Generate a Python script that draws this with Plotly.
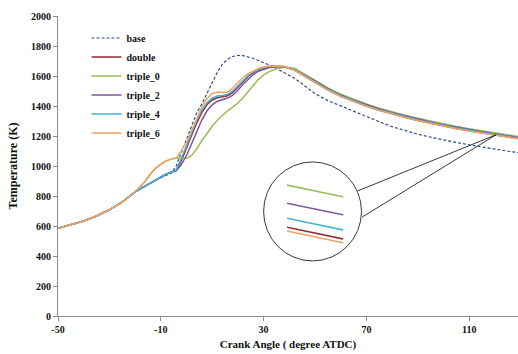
import numpy as np
import plotly.graph_objects as go

crank = [-50, -45, -40, -35, -30, -25, -20, -18, -16, -14, -12, -10, -8, -6, -4, -2, 0, 2, 4, 6,
         8, 10, 12, 14, 16, 18, 20, 22, 24, 26, 28, 30, 32, 35, 38, 42, 45, 50, 55, 60,
         65, 70, 75, 80, 85, 90, 95, 100, 105, 110, 115, 120, 125, 130]

base = [585, 607, 633, 667, 708, 760, 828, 848, 868, 888, 906, 922, 936, 952, 1000, 1090, 1185, 1275, 1355, 1415,
        1485, 1555, 1625, 1680, 1712, 1730, 1737, 1736, 1729, 1717, 1703, 1690, 1675, 1650, 1622, 1585, 1548, 1482, 1436, 1400,
        1365, 1330, 1295, 1262, 1235, 1212, 1192, 1173, 1157, 1141, 1126, 1112, 1099, 1087]

double = [585, 607, 633, 667, 708, 760, 828, 848, 868, 890, 910, 928, 945, 958, 970, 1035, 1115, 1205, 1288, 1358,
          1410, 1440, 1455, 1460, 1468, 1490, 1527, 1565, 1597, 1623, 1642, 1654, 1661, 1665, 1662, 1640, 1609, 1559, 1507, 1465,
          1430, 1399, 1372, 1347, 1325, 1304, 1285, 1267, 1250, 1235, 1221, 1207, 1193, 1180]

triple_0 = [585, 607, 633, 667, 708, 760, 828, 862, 900, 948, 985, 1012, 1033, 1046, 1053, 1050, 1052, 1070, 1115, 1170,
            1220, 1265, 1305, 1340, 1368, 1393, 1420, 1455, 1498, 1540, 1578, 1606, 1628, 1648, 1658, 1652, 1623, 1573, 1521, 1479,
            1444, 1413, 1386, 1361, 1339, 1318, 1299, 1281, 1264, 1249, 1235, 1221, 1207, 1194]

triple_2 = [585, 607, 633, 667, 708, 760, 828, 848, 868, 890, 910, 928, 945, 958, 968, 1010, 1070, 1148, 1232, 1308,
            1368, 1408, 1432, 1443, 1453, 1472, 1505, 1545, 1580, 1610, 1632, 1646, 1655, 1661, 1662, 1644, 1617, 1567, 1515, 1473,
            1438, 1407, 1380, 1355, 1333, 1312, 1293, 1275, 1258, 1243, 1229, 1215, 1201, 1188]

triple_4 = [585, 607, 633, 667, 708, 760, 828, 848, 868, 890, 910, 928, 945, 958, 975, 1050, 1138, 1225, 1305, 1372,
            1422, 1452, 1466, 1470, 1478, 1500, 1535, 1572, 1603, 1627, 1645, 1656, 1663, 1666, 1664, 1643, 1612, 1562, 1510, 1468,
            1433, 1402, 1375, 1350, 1328, 1307, 1288, 1270, 1253, 1238, 1224, 1210, 1196, 1183]

triple_6 = [585, 607, 633, 667, 708, 760, 828, 862, 900, 948, 985, 1012, 1033, 1046, 1053, 1100, 1160, 1235, 1315, 1395,
            1450, 1483, 1493, 1490, 1493, 1520, 1555, 1590, 1615, 1635, 1650, 1660, 1665, 1667, 1663, 1640, 1608, 1558, 1506, 1464,
            1429, 1398, 1371, 1346, 1324, 1303, 1284, 1266, 1249, 1234, 1219.7, 1205.7, 1191.7, 1179]

names = ["base", "double", "triple_0", "triple_2", "triple_4", "triple_6"]
series = [base, double, triple_0, triple_2, triple_4, triple_6]
colors = ["#2E4E8C", "#962B30", "#9BBB59", "#7A559C", "#3FB4CF", "#F2A060"]
x_ticks = [-50, -10, 30, 70, 110]
y_ticks = [0, 200, 400, 600, 800, 1000, 1200, 1400, 1600, 1800, 2000]

# magnified window shown inside the circle
zoom_window = [119.8, 121.2]

FONT = "Liberation Serif"
fig = go.Figure()

for i, (nm, ys, c) in enumerate(zip(names, series, colors)):
    dash = "3px,2px" if nm == "base" else "solid"
    fig.add_trace(go.Scatter(
        x=crank, y=ys, name="<b>%s</b>" % nm, mode="lines",
        line=dict(color=c, width=1.2 if nm == "base" else 1.5, dash=dash),
    ))

# inset (magnified view of the tail)
zx = np.array(crank, dtype=float)
vals = []
for nm, ys, c in zip(names[1:], series[1:], colors[1:]):
    vals += list(np.interp(zoom_window, zx, ys))
    fig.add_trace(go.Scatter(
        x=crank, y=ys, mode="lines", showlegend=False,
        line=dict(color=c, width=1.5), xaxis="x2", yaxis="y2",
        hoverinfo="skip",
    ))
ymin, ymax = min(vals), max(vals)
pad = (ymax - ymin) * 0.02

# callout circle and connector lines
anchor_x = 120.5
anchor_y = float(np.interp(anchor_x, zx, triple_4))
shapes = [
    dict(type="circle", xref="x", yref="y", x0=30.0, x1=68.1, y0=367, y1=1027,
         line=dict(color="#222222", width=0.9)),
    dict(type="line", xref="x", yref="y", x0=anchor_x, y0=anchor_y, x1=66.5, y1=833,
         line=dict(color="#222222", width=0.9)),
    dict(type="line", xref="x", yref="y", x0=anchor_x, y0=anchor_y, x1=68.4, y1=660,
         line=dict(color="#222222", width=0.9)),
]

fig.update_layout(
    width=518, height=354,
    margin=dict(l=58, r=0, t=16, b=38),
    paper_bgcolor="white", plot_bgcolor="white",
    showlegend=True,
    legend=dict(x=0.062, y=0.975, xanchor="left", yanchor="top",
                font=dict(family=FONT, size=10, color="#111111"),
                bgcolor="rgba(0,0,0,0)", itemwidth=30),
    xaxis=dict(range=[-50, 129], tickvals=x_ticks, ticktext=["<b>%d</b>" % v for v in x_ticks],
               showgrid=False, zeroline=False, showline=True, linecolor="#8a8a8a", linewidth=1,
               ticks="outside", ticklen=4, tickcolor="#8a8a8a",
               tickfont=dict(family=FONT, size=10, color="#111111"),
               title=dict(text="<b>Crank Angle ( degree ATDC)</b>", standoff=6,
                          font=dict(family=FONT, size=11, color="#111111"))),
    yaxis=dict(range=[0, 2000], tickvals=y_ticks, ticktext=["<b>%d</b>" % v for v in y_ticks],
               showgrid=False, zeroline=False,
               showline=True, linecolor="#8a8a8a", linewidth=1,
               ticks="outside", ticklen=4, tickcolor="#8a8a8a",
               tickfont=dict(family=FONT, size=10, color="#111111"),
               title=dict(text="<b>Temperature (K)</b>", standoff=10,
                          font=dict(family=FONT, size=12, color="#111111"))),
    xaxis2=dict(domain=[0.498, 0.620], range=zoom_window, visible=False, anchor="y2"),
    yaxis2=dict(domain=[0.240, 0.440], range=[ymin - pad, ymax + pad], visible=False, anchor="x2"),
    shapes=shapes,
)

fig.write_html("out.html")
